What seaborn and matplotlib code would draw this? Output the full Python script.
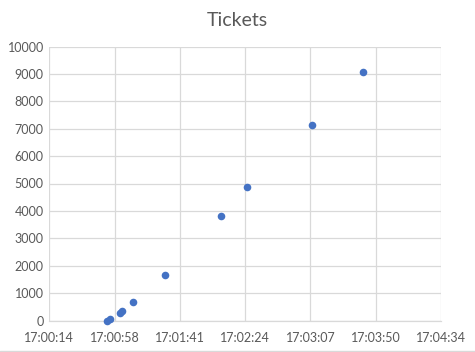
#!/usr/bin/env python3

# plot.py
#
# Excel style scatter of ticket counts over the time of day.
import matplotlib
matplotlib.use('Agg')
import matplotlib.pyplot as plt
import matplotlib.ticker as ticker
import numpy as np
import pandas as pd
import seaborn as sb

# Values
TIMES = ['17:00:52.6', '17:00:54.6', '17:01:01.5', '17:01:02.8', '17:01:10.0',
         '17:01:31.2', '17:02:08.2', '17:02:25.4', '17:03:08.5', '17:03:42.2']
TICKETS = [0, 55, 274, 347, 664, 1650, 3803, 4861, 7124, 9058]

TITLE = 'Tickets'

# Axis bounds as Excel picked them (seconds of the day)
X_MIN, X_STEP, X_STEPS = 61214.4, 43.2, 6
Y_MIN, Y_MAX, Y_STEP = 0, 10000, 1000

GRID = '#D9D9D9'
TEXT = '#595959'
MARKER = '#4472C4'


def seconds(text):
  return pd.to_timedelta(text).total_seconds()

def clock(value, position):
  value = int(round(value))
  return '{:02d}:{:02d}:{:02d}'.format(value // 3600, (value // 60) % 60, value % 60)


if __name__ == '__main__':
  df = pd.DataFrame({'time': [seconds(t) for t in TIMES], 'tickets': TICKETS})

  sb.set_style('white')
  plt.rcParams['font.family'] = ['Lato', 'DejaVu Sans']

  figure = plt.figure(figsize=(4.75, 3.52), dpi=100)
  axis = figure.add_axes([49.3 / 475, 1 - 320.5 / 352, (441 - 49.3) / 475, (320.5 - 46.5) / 352])
  sb.scatterplot(data=df, x='time', y='tickets', color=MARKER, s=30, linewidth=0, ax=axis, zorder=3, clip_on=False)

  # Format the axes the way Excel does
  axis.set_xlim(X_MIN, X_MIN + X_STEP * X_STEPS)
  axis.set_ylim(Y_MIN, Y_MAX)
  axis.xaxis.set_major_locator(ticker.FixedLocator(X_MIN + X_STEP * np.arange(X_STEPS + 1)))
  axis.xaxis.set_major_formatter(ticker.FuncFormatter(clock))
  axis.yaxis.set_major_locator(ticker.MultipleLocator(Y_STEP))
  axis.grid(True, color=GRID, linewidth=0.9)
  axis.tick_params(axis='both', length=0, labelsize=9, labelcolor=TEXT, pad=4)
  axis.tick_params(axis='x', pad=8)
  for side in ['top', 'right', 'left']:
    axis.spines[side].set_visible(False)
  axis.spines['bottom'].set_color(GRID)
  axis.spines['bottom'].set_linewidth(0.9)
  axis.set_xlabel('')
  axis.set_ylabel('')

  figure.text(0.5, 1 - 20 / 352, TITLE, ha='center', va='center', fontsize=14, color=TEXT)

  # Bottom edge of the chart area (the rest is cropped in the reference)
  figure.add_artist(plt.Line2D([0, 1], [1.5 / 352, 1.5 / 352], transform=figure.transFigure,
                               color=GRID, linewidth=1))

  plt.savefig('out.png', dpi=100)
  plt.close()
